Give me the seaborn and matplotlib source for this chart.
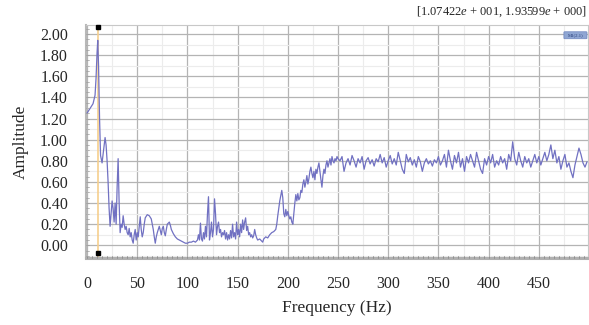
import numpy as np
import pandas as pd
import matplotlib
matplotlib.use("Agg")
import matplotlib.pyplot as plt
from matplotlib.ticker import MultipleLocator
from matplotlib.patches import FancyBboxPatch
import seaborn as sns

# ---- data ----
freq_low = [0, 2, 4, 6, 8, 9, 10, 10.7, 11.5, 12.5, 13.5, 15, 16.5, 18, 19, 20, 21, 22, 23, 24,
            25, 26, 27, 28, 29, 30, 31, 32, 33, 34, 35, 36, 37, 38, 39, 40, 41, 42, 43, 44,
            45, 46, 47, 48, 49, 50, 51, 52, 53, 54, 55, 56, 57, 58, 60, 62, 64, 65, 66, 67,
            68, 69, 70, 72, 73, 74, 75, 76, 77, 78, 79, 80, 82, 83, 84, 86, 88, 90, 92, 94,
            96, 98, 100, 102, 104, 106, 108, 110]
amp_low = [1.25, 1.28, 1.31, 1.34, 1.42, 1.58, 1.82, 1.94, 1.70, 1.20, 0.85, 0.78, 0.90, 1.02, 0.95, 0.80, 0.60, 0.35, 0.18, 0.30,
           0.42, 0.35, 0.22, 0.40, 0.20, 0.55, 0.82, 0.40, 0.12, 0.20, 0.17, 0.28, 0.20, 0.15, 0.18, 0.12, 0.10, 0.16, 0.08, 0.12,
           0.05, 0.02, 0.10, 0.15, 0.05, 0.12, 0.08, 0.18, 0.27, 0.15, 0.08, 0.12, 0.20, 0.26, 0.29, 0.28, 0.25, 0.20, 0.15, 0.08,
           0.02, 0.08, 0.12, 0.18, 0.14, 0.10, 0.16, 0.18, 0.12, 0.09, 0.15, 0.20, 0.22, 0.19, 0.15, 0.11, 0.08, 0.06, 0.05, 0.04,
           0.03, 0.02, 0.02, 0.03, 0.03, 0.04, 0.03, 0.05]

freq_mid = [111, 112, 113, 114, 115, 116, 117, 118, 119, 120, 121, 122, 123, 124, 125, 126, 127, 128, 129, 130,
            131, 132, 133, 134, 135, 136, 137, 138, 139, 140, 141, 142, 143, 144, 145, 146, 147, 148, 149, 150,
            151, 152, 153, 154, 155, 156, 157, 158, 159, 160, 161, 162, 163, 164, 165, 166, 167, 168, 169, 170,
            172, 174, 175, 176, 178, 180, 182, 184, 186, 188, 189]
amp_mid = [0.10, 0.05, 0.21, 0.06, 0.04, 0.12, 0.06, 0.18, 0.08, 0.30, 0.46, 0.05, 0.12, 0.22, 0.08, 0.15, 0.44, 0.30, 0.10, 0.18,
           0.22, 0.12, 0.15, 0.08, 0.12, 0.10, 0.14, 0.06, 0.12, 0.05, 0.10, 0.06, 0.14, 0.07, 0.20, 0.08, 0.12, 0.06, 0.22, 0.10,
           0.15, 0.08, 0.20, 0.12, 0.24, 0.15, 0.22, 0.26, 0.14, 0.18, 0.10, 0.12, 0.08, 0.10, 0.07, 0.09, 0.15, 0.10, 0.07, 0.05,
           0.06, 0.04, 0.03, 0.06, 0.08, 0.07, 0.10, 0.12, 0.13, 0.15, 0.20]

freq_rise = [190, 192, 194, 195, 196, 197, 198, 199, 200, 201, 202, 203, 204, 205, 206, 207, 208, 209, 210, 211,
             212, 213, 214, 215, 216, 217, 218, 219, 220, 221, 222, 223, 224, 225, 226, 227, 228, 229, 230, 231,
             232, 233, 234, 235, 236, 237, 238, 239, 240, 241, 242, 243, 244, 245, 246, 247, 248, 249, 250]
amp_rise = [0.28, 0.42, 0.52, 0.45, 0.30, 0.27, 0.34, 0.28, 0.32, 0.28, 0.25, 0.27, 0.22, 0.20, 0.30, 0.40, 0.48, 0.42, 0.49, 0.43,
            0.45, 0.52, 0.50, 0.58, 0.62, 0.55, 0.60, 0.66, 0.58, 0.63, 0.70, 0.74, 0.68, 0.64, 0.70, 0.62, 0.72, 0.68, 0.74, 0.78,
            0.70, 0.62, 0.55, 0.66, 0.72, 0.68, 0.76, 0.80, 0.74, 0.78, 0.82, 0.76, 0.84, 0.80, 0.78, 0.82, 0.80, 0.84, 0.82]

freq_high = list(range(252, 499, 2))
amp_high = [0.80, 0.84, 0.70, 0.78, 0.82, 0.76, 0.85, 0.80, 0.74, 0.82, 0.78, 0.84, 0.72, 0.80, 0.83, 0.77, 0.81, 0.75, 0.82, 0.79,
            0.86, 0.78, 0.83, 0.74, 0.80, 0.85, 0.77, 0.82, 0.76, 0.88, 0.80, 0.72, 0.68, 0.86, 0.79, 0.83, 0.76, 0.81, 0.74, 0.84,
            0.79, 0.70, 0.78, 0.82, 0.77, 0.80, 0.75, 0.81, 0.78, 0.84, 0.76, 0.80, 0.86, 0.74, 0.90, 0.80, 0.72, 0.85, 0.78, 0.88,
            0.74, 0.82, 0.70, 0.84, 0.78, 0.86, 0.80, 0.74, 0.88, 0.80, 0.72, 0.68, 0.82, 0.76, 0.84, 0.78, 0.86, 0.74, 0.80, 0.76,
            0.84, 0.78, 0.82, 0.72, 0.86, 0.80, 0.98, 0.82, 0.76, 0.88, 0.80, 0.74, 0.84, 0.78, 0.82, 0.74, 0.80, 0.86, 0.78, 0.84,
            0.76, 0.82, 0.88, 0.80, 0.86, 0.95, 0.82, 0.90, 0.78, 0.84, 0.72, 0.80, 0.86, 0.74, 0.78, 0.70, 0.64, 0.76, 0.84, 0.92,
            0.86, 0.78, 0.74, 0.79]

marker_freq = 10.7422
marker_label = "[1.07422$e$ + 001, 1.93599$e$ + 000]"
badge_label = "M1(2.1)"
xticks = [0, 50, 100, 150, 200, 250, 300, 350, 400, 450]
yticks = [0.0, 0.2, 0.4, 0.6, 0.8, 1.0, 1.2, 1.4, 1.6, 1.8, 2.0]

df = pd.DataFrame({
    "Frequency (Hz)": freq_low + freq_mid + freq_rise + freq_high,
    "Amplitude": amp_low + amp_mid + amp_rise + amp_high,
})

# ---- style ----
sns.set_style("white")
plt.rcParams["font.family"] = ["Liberation Serif", "DejaVu Serif"]
plt.rcParams["mathtext.fontset"] = "custom"
plt.rcParams["mathtext.rm"] = "Liberation Serif"
plt.rcParams["mathtext.it"] = "Liberation Serif:italic"

fig = plt.figure(figsize=(5.89, 3.25), dpi=100)
ax = fig.add_axes([86 / 589, 1 - 258 / 325, 502 / 589, (258 - 25) / 325])

ax.set_xlim(-1, 499)
ax.set_ylim(-0.12, 2.085)

# grid
ax.xaxis.set_major_locator(MultipleLocator(50))
ax.xaxis.set_minor_locator(MultipleLocator(25))
ax.yaxis.set_major_locator(MultipleLocator(0.2))
ax.yaxis.set_minor_locator(MultipleLocator(0.1))
ax.grid(which="major", color="#b4b4b4", linewidth=0.9)
ax.grid(which="minor", color="#ececec", linewidth=0.8)
ax.set_axisbelow(True)

# marker line
ax.axvline(marker_freq, color="#f6cf8e", linewidth=1.2, zorder=2)

sns.lineplot(data=df, x="Frequency (Hz)", y="Amplitude", ax=ax,
             color="#7171c2", linewidth=0.9, zorder=3)

ax.plot([marker_freq, marker_freq], [2.065, -0.075], linestyle="none",
        marker="s", markersize=3.2, color="black", zorder=5, clip_on=False)

ax.set_xticks(xticks)
ax.set_xticklabels([str(t) for t in xticks])
ax.set_yticks(yticks)
ax.set_yticklabels([f"{t:.2f}" for t in yticks])

ax.tick_params(axis="both", which="major", length=0, labelsize=11.5, pad=13)
ax.tick_params(axis="both", which="minor", length=0)

for side in ["top", "right"]:
    ax.spines[side].set_color("#c8c8c8")
    ax.spines[side].set_linewidth(0.8)
ax.spines["bottom"].set_color("#b0b0b0")
ax.spines["bottom"].set_linewidth(2.2)
ax.spines["left"].set_color("#b8b8b8")
ax.spines["left"].set_linewidth(1.5)

# small tick dashes along the bottom band and left edge
for f in np.arange(0, 499, 5):
    ax.plot([f, f], [-0.12, -0.105], color="#8c8c8c", linewidth=0.6, clip_on=False, zorder=4)
for v in np.arange(-0.1, 2.09, 0.05):
    ax.plot([-1, 1.5], [v, v], color="#9c9c9c", linewidth=0.5, clip_on=False, zorder=4)

ax.set_xlabel("Frequency (Hz)", fontsize=12.5, labelpad=6)
ax.set_ylabel("Amplitude", fontsize=12.5, labelpad=8)

# badge at top right
badge = FancyBboxPatch((0.954, 0.943), 0.042, 0.026, boxstyle="round,pad=0.002",
                       transform=ax.transAxes, facecolor="#8fa6d3", edgecolor="#6f86bf",
                       linewidth=0.5, zorder=6)
ax.add_patch(badge)
ax.text(0.975, 0.956, badge_label, transform=ax.transAxes, fontsize=3.4,
        color="#2a3f7a", ha="center", va="center", zorder=7)

fig.text(587 / 589, 1 - 12 / 325, marker_label, fontsize=9, ha="right", va="center")

fig.savefig("out.png", dpi=100)
